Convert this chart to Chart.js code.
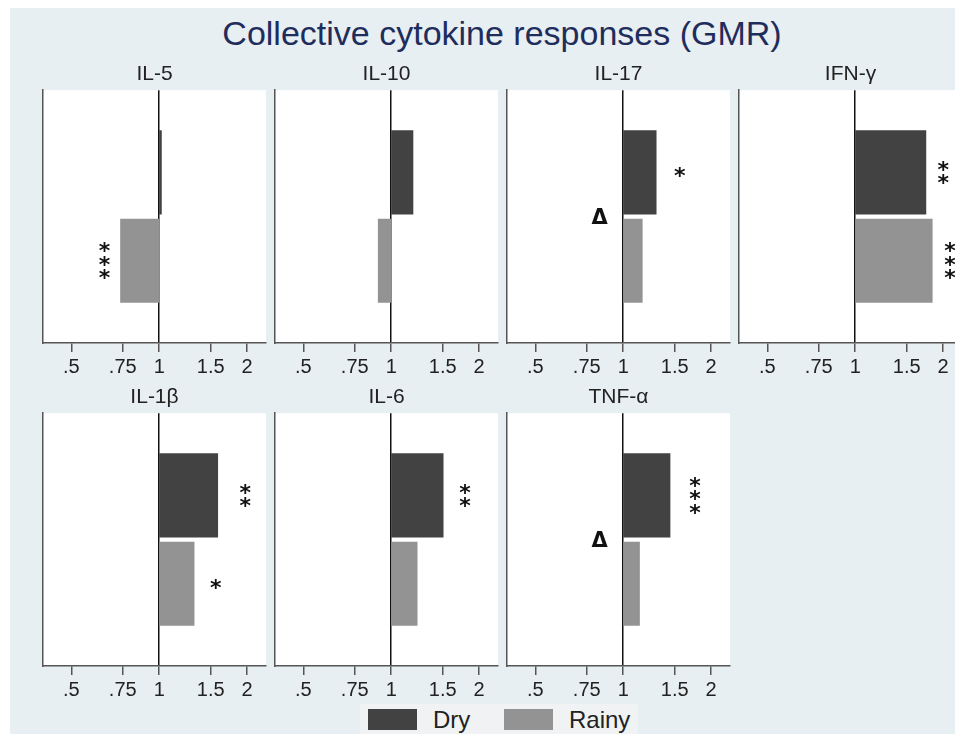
<!DOCTYPE html>
<html lang="en">
<head>
    <meta charset="UTF-8">
    <title>Collective cytokine responses (GMR)</title>
    <script src="https://cdn.jsdelivr.net/npm/chart.js"></script>
    <style>
        body {
            margin: 0;
            width: 955px;
            height: 734px;
            overflow: hidden;
            background: #ffffff;
            font-family: "Liberation Sans", Arial, sans-serif;
            position: relative;
        }
        .frame {
            position: absolute;
            left: 10px;
            top: 8px;
            right: 0;
            bottom: 0;
            background: #e8eff2;
        }
        h1 {
            position: absolute;
            left: 0;
            width: 1004px;
            top: 13px;
            margin: 0;
            text-align: center;
            font-weight: normal;
            font-size: 34px;
            line-height: 40px;
            color: #1f2d5c;
        }
        canvas {
            position: absolute;
        }
        .legend {
            position: absolute;
            left: 360px;
            top: 704px;
            width: 278px;
            height: 30px;
            background: #f0f2f3;
        }
        .legend span {
            position: absolute;
            top: 5px;
        }
        .swatch {
            width: 49px;
            height: 21px;
        }
        .legend .name {
            top: 2px;
            font-size: 24px;
            line-height: 28px;
            color: #222;
        }
    </style>
</head>
<body>
    <div class="frame"></div>
    <h1>Collective cytokine responses (GMR)</h1>
    <div id="panels"></div>
    <div class="legend" id="legend"></div>

    <script>
        // geometric mean ratios (log axis, reference = 1)
        const panels = ['IL-5', 'IL-10', 'IL-17', 'IFN-γ', 'IL-1β', 'IL-6', 'TNF-α'];
        const seriesNames = ['Dry', 'Rainy'];
        const dryGMR = [1.02, 1.19, 1.30, 1.75, 1.59, 1.51, 1.45];
        const rainyGMR = [0.735, 0.90, 1.165, 1.84, 1.32, 1.23, 1.14];
        const tickValues = [0.5, 0.75, 1, 1.5, 2];
        const tickLabels = ['.5', '.75', '1', '1.5', '2'];

        // significance marks and where (in GMR units) they sit
        const dryStars = ['', '', '*', '**', '**', '**', '***'];
        const dryStarAt = [null, null, 1.56, 2.0, 1.97, 1.79, 1.76];
        const rainyStars = ['***', '', '', '***', '*', '', ''];
        const rainyStarAt = [0.65, null, null, 2.11, 1.56, null, null];
        const deltaAt = [null, null, 0.83, null, null, null, 0.83];

        const colors = ['#424242', '#939393'];
        const font = '"Liberation Sans", Arial, sans-serif';

        // panel grid: plot-area left edges and tops
        const colLeft = [43, 275, 507, 739];
        const rowTop = [54, 377];

        const plotBackground = {
            id: 'plotBackground',
            beforeDraw(chart) {
                const a = chart.chartArea;
                chart.ctx.save();
                chart.ctx.fillStyle = '#ffffff';
                chart.ctx.fillRect(a.left, a.top, a.right - a.left, a.bottom - a.top);
                chart.ctx.restore();
            }
        };

        function drawStars(ctx, text, x, y) {
            if (!text) return;
            ctx.font = 'bold 22px "DejaVu Sans", sans-serif';
            ctx.textAlign = 'center';
            ctx.textBaseline = 'alphabetic';
            const m = ctx.measureText('*');
            const shift = (m.actualBoundingBoxDescent - m.actualBoundingBoxAscent) / 2;
            const n = text.length;
            for (let k = 0; k < n; k++) {
                const yy = y + (k - (n - 1) / 2) * 13.5;
                ctx.fillText('*', x, yy - shift);
            }
        }

        const marks = {
            id: 'marks',
            afterDraw(chart, args, opts) {
                const i = opts.panel;
                const ctx = chart.ctx;
                const xs = chart.scales.x;
                const dry = chart.getDatasetMeta(0).data[0];
                const rainy = chart.getDatasetMeta(1).data[0];
                ctx.save();
                ctx.fillStyle = '#111';
                if (dryStarAt[i] !== null) drawStars(ctx, dryStars[i], xs.getPixelForValue(dryStarAt[i]), dry.y);
                if (rainyStarAt[i] !== null) drawStars(ctx, rainyStars[i], xs.getPixelForValue(rainyStarAt[i]), rainy.y);
                if (deltaAt[i] !== null) {
                    ctx.font = 'bold 21px "DejaVu Sans", sans-serif';
                    ctx.textAlign = 'center';
                    ctx.textBaseline = 'middle';
                    ctx.fillText('Δ', xs.getPixelForValue(deltaAt[i]), (dry.y + rainy.y) / 2 + 2);
                }
                ctx.restore();
            }
        };

        function makePanel(i) {
            const row = i < 4 ? 0 : 1;
            const col = i < 4 ? i : i - 4;
            const canvas = document.createElement('canvas');
            canvas.width = 239;
            canvas.height = 329;
            canvas.style.left = (colLeft[col] - 8) + 'px';
            canvas.style.top = rowTop[row] + 'px';
            document.getElementById('panels').appendChild(canvas);

            new Chart(canvas.getContext('2d'), {
                type: 'bar',
                data: {
                    labels: [panels[i]],
                    datasets: [
                        { label: seriesNames[0], data: [[1, dryGMR[i]]], backgroundColor: colors[0] },
                        { label: seriesNames[1], data: [[1, rainyGMR[i]]], backgroundColor: colors[1] }
                    ]
                },
                options: {
                    indexAxis: 'y',
                    responsive: false,
                    animation: false,
                    categoryPercentage: 0.70,
                    barPercentage: 0.95,
                    borderWidth: 0,
                    layout: { padding: { left: 8, right: 8, top: 0, bottom: 0 } },
                    plugins: {
                        legend: { display: false },
                        tooltip: { enabled: false },
                        title: {
                            display: true,
                            text: panels[i],
                            color: '#222',
                            font: { family: font, size: 21, weight: 'normal' },
                            padding: { top: 8, bottom: 3 }
                        },
                        marks: { panel: i }
                    },
                    scales: {
                        x: {
                            type: 'logarithmic',
                            min: 0.4,
                            max: 2.32,
                            z: 1,
                            afterBuildTicks: s => { s.ticks = tickValues.map(v => ({ value: v })); },
                            afterFit: s => { s.height = 40; },
                            ticks: {
                                autoSkip: false,
                                maxRotation: 0,
                                padding: 3,
                                color: '#222',
                                font: { family: font, size: 20 },
                                callback: v => tickLabels[tickValues.indexOf(v)]
                            },
                            grid: {
                                color: c => (c.tick && c.tick.value === 1) ? '#111' : 'rgba(0,0,0,0)',
                                lineWidth: 1.5,
                                tickColor: '#555',
                                tickLength: 9
                            },
                            border: { color: '#555', width: 1.5 }
                        },
                        y: {
                            offset: true,
                            ticks: { display: false },
                            grid: { display: false, drawTicks: false },
                            border: { color: '#555', width: 1.5 },
                            afterFit: s => { s.width = 0; }
                        }
                    }
                },
                plugins: [plotBackground, marks]
            });
        }

        for (let i = 0; i < panels.length; i++) makePanel(i);

        // legend
        const legend = document.getElementById('legend');
        const swatchLeft = [8, 144];
        const nameLeft = [73, 209];
        seriesNames.forEach((name, k) => {
            const sw = document.createElement('span');
            sw.className = 'swatch';
            sw.style.left = swatchLeft[k] + 'px';
            sw.style.background = colors[k];
            legend.appendChild(sw);
            const t = document.createElement('span');
            t.className = 'name';
            t.style.left = nameLeft[k] + 'px';
            t.textContent = name;
            legend.appendChild(t);
        });
    </script>
</body>
</html>
